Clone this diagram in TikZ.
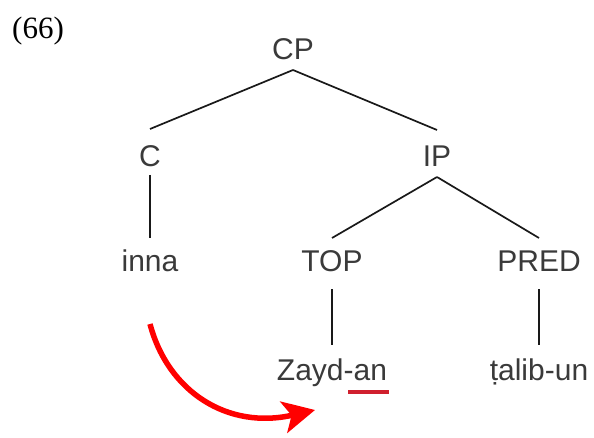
\documentclass[tikz,border=0pt]{standalone}
\usepackage{fontspec}
\setmainfont{Liberation Sans}
\newfontfamily\serifnum{Liberation Serif}
\usetikzlibrary{arrows.meta}
\definecolor{txtgray}{HTML}{3A3A3A}
\definecolor{ulred}{HTML}{D0202E}
\begin{document}
\begin{tikzpicture}[x=1pt,y=-1pt,
  lbl/.style={anchor=base,inner sep=0pt,text=txtgray,font=\fontsize{30}{36}\selectfont},
  branch/.style={line width=1.7pt,draw=black!90},
  movearrow/.style={draw=red,line width=5.5pt,-{Stealth[length=32pt,width=32pt,inset=8pt]}},
  ul/.style={draw=ulred,line width=4pt}]
\useasboundingbox (0,0) rectangle (594,438);
\node[anchor=base west,inner sep=0pt,font=\serifnum\fontsize{31}{36}\selectfont] (num) at (12,39) {(66)};
\node[lbl] (CP) at (293,60) {CP};
\node[lbl] (C) at (150,167) {C};
\node[lbl] (IP) at (437,167) {IP};
\node[lbl] (inna) at (150,272) {inna};
\node[lbl] (TOP) at (332,272) {TOP};
\node[lbl] (PRED) at (539,272) {PRED};
\node[lbl] (Z) at (332,380) {Zayd-an};
\node[lbl] (T) at (539,380) {ṭalib-un};
\draw[branch] ([yshift=-10pt]CP.base) -- ([yshift=38pt]C.base);
\draw[branch] ([yshift=-10pt]CP.base) -- ([yshift=37pt]IP.base);
\draw[branch] ([yshift=-8pt]C.base) -- ([yshift=34pt]inna.base);
\draw[branch] ([yshift=-10pt]IP.base) -- ([yshift=34pt]TOP.base);
\draw[branch] ([yshift=-10pt]IP.base) -- ([yshift=34pt]PRED.base);
\draw[branch] ([yshift=-17pt]TOP.base) -- ([yshift=35pt]Z.base);
\draw[branch] ([yshift=-17pt]PRED.base) -- ([yshift=35pt]T.base);
\coordinate (ulL) at (348,392);
\coordinate (ulR) at (389,392);
\draw[ul] (ulL) -- (ulR);
\coordinate (aS) at (150,324);
\coordinate (aE) at (315,410);
\draw[movearrow] (aS) .. controls (168,392) and (228,430) .. (aE);
\end{tikzpicture}
\end{document}
